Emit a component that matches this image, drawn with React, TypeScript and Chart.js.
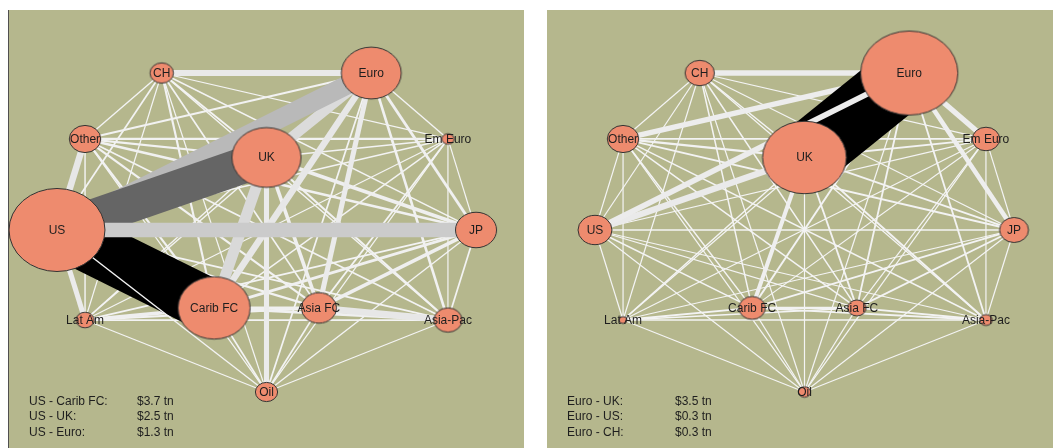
import React, { useEffect, useRef } from "react";
import { Chart, registerables } from "chart.js";

Chart.register(...registerables);

// ---------------- DATA ----------------
const nodeNames = ["US", "UK", "Euro", "JP", "CH", "Other", "Em Euro", "Lat Am", "Carib FC", "Asia FC", "Asia-Pac", "Oil"];
// layout coordinates (network layout space)
const layoutX = [-1, 0, 0.5, 1, -0.5, -0.866, 0.866, -0.866, -0.25, 0.25, 0.866, 0];
const layoutY = [0, 0.4475, 0.969, 0, 0.969, 0.562, 0.562, -0.556, -0.481, -0.481, -0.556, -1];

// relative vertex size (index)
const nodeSizeLeft = [22.9, 16.5, 14.3, 9.8, 5.6, 7.5, 2.9, 4.3, 17.2, 8.4, 6.7, 5.3];
const nodeSizeRight = [8.1, 20.0, 23.2, 6.9, 7.0, 7.5, 6.5, 1.9, 6.3, 4.4, 3.0, 2.9];

// edges (source / target)
const edgeFrom = [
  "US", "US", "US", "US", "US", "US", "US", "US", "US", "US", "US",
  "UK", "UK", "UK", "UK", "UK", "UK", "UK", "UK", "UK", "UK",
  "Euro", "Euro", "Euro", "Euro", "Euro", "Euro", "Euro", "Euro", "Euro",
  "JP", "JP", "JP", "JP", "JP", "JP", "JP", "JP",
  "CH", "CH", "CH", "CH", "CH", "CH", "CH",
  "Other", "Other", "Other", "Other", "Other", "Other",
  "Em Euro", "Em Euro", "Em Euro", "Em Euro", "Em Euro",
  "Lat Am", "Lat Am", "Lat Am", "Lat Am",
  "Carib FC", "Carib FC", "Carib FC",
  "Asia FC", "Asia FC",
  "Asia-Pac",
];
const edgeTo = [
  "UK", "Euro", "JP", "CH", "Other", "Em Euro", "Lat Am", "Carib FC", "Asia FC", "Asia-Pac", "Oil",
  "Euro", "JP", "CH", "Other", "Em Euro", "Lat Am", "Carib FC", "Asia FC", "Asia-Pac", "Oil",
  "JP", "CH", "Other", "Em Euro", "Lat Am", "Carib FC", "Asia FC", "Asia-Pac", "Oil",
  "CH", "Other", "Em Euro", "Lat Am", "Carib FC", "Asia FC", "Asia-Pac", "Oil",
  "Other", "Em Euro", "Lat Am", "Carib FC", "Asia FC", "Asia-Pac", "Oil",
  "Em Euro", "Lat Am", "Carib FC", "Asia FC", "Asia-Pac", "Oil",
  "Lat Am", "Carib FC", "Asia FC", "Asia-Pac", "Oil",
  "Carib FC", "Asia FC", "Asia-Pac", "Oil",
  "Asia FC", "Asia-Pac", "Oil",
  "Asia-Pac", "Oil",
  "Oil",
];

// exposures in $ tn
const weightLeft = [
  2.5, 1.3, 1.0, 0.12, 0.45, 0.1, 0.35, 3.7, 0.15, 0.12, 0.1,
  0.7, 0.25, 0.12, 0.15, 0.1, 0.1, 0.75, 0.25, 0.15, 0.35,
  0.2, 0.4, 0.15, 0.1, 0.1, 0.45, 0.35, 0.18, 0.12,
  0.1, 0.18, 0.08, 0.12, 0.2, 0.25, 0.12, 0.1,
  0.1, 0.08, 0.08, 0.15, 0.12, 0.1, 0.08,
  0.15, 0.1, 0.15, 0.15, 0.12, 0.08,
  0.06, 0.1, 0.12, 0.08, 0.06,
  0.25, 0.15, 0.12, 0.08,
  0.2, 0.2, 0.12,
  0.45, 0.12,
  0.08,
];
const weightRight = [
  0.35, 0.31, 0.08, 0.06, 0.06, 0.06, 0.06, 0.08, 0.06, 0.06, 0.05,
  3.5, 0.1, 0.08, 0.12, 0.1, 0.08, 0.22, 0.1, 0.1, 0.06,
  0.25, 0.3, 0.29, 0.29, 0.06, 0.1, 0.1, 0.1, 0.06,
  0.06, 0.1, 0.06, 0.06, 0.1, 0.1, 0.06, 0.05,
  0.06, 0.06, 0.05, 0.08, 0.08, 0.06, 0.05,
  0.1, 0.06, 0.08, 0.08, 0.08, 0.05,
  0.05, 0.06, 0.06, 0.05, 0.05,
  0.1, 0.08, 0.08, 0.05,
  0.12, 0.1, 0.06,
  0.1, 0.06,
  0.05,
];

const focusLeft = "US";
const focusRight = "Euro";

// ---------------- STYLE ----------------
const BG = "#b5b78d";
const NODE_FILL = "#ee8b6e";
const NODE_STROKE = "#333333";
const TEXT = "#1e1e1e";
const FONT = '12px "Liberation Sans", Arial, Helvetica, sans-serif';
const X_MIN = -1.229, X_MAX = 1.229, Y_MIN = -1.346, Y_MAX = 1.358;
const ELLIPSE_RATIO = 0.865;
const CW = 515, CH_ = 438;

type PanelProps = {
  sizes: number[];
  weights: number[];
  pxPerTn: number;
  focus: string;
  onTop: string[];
};

function makeEllipse(rx: number, ry: number): HTMLCanvasElement {
  const cv = document.createElement("canvas");
  const w = Math.max(4, Math.ceil(2 * rx + 4));
  const h = Math.max(4, Math.ceil(2 * ry + 4));
  cv.width = w;
  cv.height = h;
  const g = cv.getContext("2d")!;
  g.beginPath();
  g.ellipse(w / 2, h / 2, Math.max(0.5, rx), Math.max(0.5, ry), 0, 0, Math.PI * 2);
  g.fillStyle = NODE_FILL;
  g.fill();
  g.lineWidth = 1;
  g.strokeStyle = NODE_STROKE;
  g.stroke();
  return cv;
}

function NetworkPanel({ sizes, weights, pxPerTn, focus, onTop }: PanelProps) {
  const ref = useRef<HTMLCanvasElement>(null);

  useEffect(() => {
    if (!ref.current) return;
    const idx = (n: string) => nodeNames.indexOf(n);
    const wmax = Math.max(...weights);
    const gray = (w: number) => {
      const g = Math.round(245 * (1 - Math.pow(Math.min(1, w / wmax), 1.35)));
      return `rgb(${g},${g},${g})`;
    };
    const topIdx = onTop.map((key) => {
      const [a, b] = key.split("|");
      return edgeFrom.findIndex((f, i) => (f === a && edgeTo[i] === b) || (f === b && edgeTo[i] === a));
    });
    const drawOrder = weights
      .map((_, i) => i)
      .filter((i) => !topIdx.includes(i))
      .sort((a, b) => weights[a] - weights[b])
      .concat(topIdx);

    const edgeDatasets: any[] = drawOrder.map((e, k) => ({
      type: "line",
      data: [
        { x: layoutX[idx(edgeFrom[e])], y: layoutY[idx(edgeFrom[e])] },
        { x: layoutX[idx(edgeTo[e])], y: layoutY[idx(edgeTo[e])] },
      ],
      showLine: true,
      borderColor: gray(weights[e]),
      borderWidth: Math.max(1.2, weights[e] * pxPerTn),
      borderCapStyle: "butt",
      pointRadius: 0,
      fill: false,
      tension: 0,
      order: 1000 - k,
    }));

    const cache = new Map<number, HTMLCanvasElement>();
    const nodeDataset: any = {
      type: "scatter",
      data: nodeNames.map((_, i) => ({ x: layoutX[i], y: layoutY[i] })),
      order: 0,
      pointRadius: 5,
      pointStyle: (c: any) => {
        const i = c.dataIndex;
        if (i === undefined || i === null) return "circle";
        if (cache.has(i)) return cache.get(i);
        const xs = c.chart.scales && c.chart.scales.x;
        let rx = NaN;
        if (xs && xs.width > 0) {
          rx = Math.abs(xs.getPixelForValue(layoutX[i] + sizes[i] / 100) - xs.getPixelForValue(layoutX[i]));
        }
        const ok = isFinite(rx) && rx > 0;
        if (!ok) rx = (sizes[i] / 100) * (CW / (X_MAX - X_MIN));
        const cv = makeEllipse(rx, rx * ELLIPSE_RATIO);
        if (ok) cache.set(i, cv);
        return cv;
      },
    };
    const nodeDsIndex = edgeDatasets.length;

    const labelPlugin = {
      id: "nodeLabels",
      afterDatasetsDraw(chart: any) {
        const ctx = chart.ctx;
        const meta = chart.getDatasetMeta(nodeDsIndex);
        ctx.save();
        ctx.font = FONT;
        ctx.fillStyle = TEXT;
        ctx.textAlign = "center";
        ctx.textBaseline = "middle";
        meta.data.forEach((pt: any, i: number) => {
          ctx.fillText(nodeNames[i], pt.x, pt.y + 0.5);
        });
        ctx.restore();
      },
    };

    const focusEdges = weights
      .map((w, i) => ({ w, i }))
      .filter((o) => edgeFrom[o.i] === focus || edgeTo[o.i] === focus)
      .sort((a, b) => b.w - a.w)
      .slice(0, 3);

    const legendPlugin = {
      id: "topEdges",
      afterDraw(chart: any) {
        const ctx = chart.ctx;
        ctx.save();
        ctx.font = FONT;
        ctx.fillStyle = TEXT;
        ctx.textAlign = "left";
        ctx.textBaseline = "middle";
        focusEdges.forEach((o, r) => {
          const other = edgeFrom[o.i] === focus ? edgeTo[o.i] : edgeFrom[o.i];
          const y = 391.5 + r * 15.5;
          ctx.fillText(`${focus} - ${other}:`, 20, y);
          ctx.fillText(`$${o.w.toFixed(1)} tn`, 128, y);
        });
        ctx.restore();
      },
    };

    const chart = new Chart(ref.current, {
      type: "scatter",
      data: { datasets: [...edgeDatasets, nodeDataset] },
      options: {
        responsive: false,
        animation: false,
        devicePixelRatio: 1,
        events: [],
        layout: { padding: 0, autoPadding: false },
        plugins: { legend: { display: false }, tooltip: { enabled: false } },
        scales: {
          x: { type: "linear", min: X_MIN, max: X_MAX, display: false },
          y: { type: "linear", min: Y_MIN, max: Y_MAX, display: false },
        },
      } as any,
      plugins: [labelPlugin, legendPlugin],
    } as any);
    return () => chart.destroy();
  }, []);

  return <canvas ref={ref} width={CW} height={CH_} style={{ display: "block" }} />;
}

export default function App() {
  return (
    <div
      style={{
        position: "fixed",
        left: 0,
        top: 0,
        width: 1053,
        height: 448,
        overflow: "hidden",
        background: "#ffffff",
      }}
    >
      <div style={{ position: "absolute", left: 8, top: 10, width: 1, height: 438, background: "#505050" }} />
      <div style={{ position: "absolute", left: 9, top: 10, width: CW, height: CH_, background: BG }}>
        <NetworkPanel sizes={nodeSizeLeft} weights={weightLeft} pxPerTn={14.5} focus={focusLeft} onTop={["US|JP", "US|Oil"]} />
      </div>
      <div style={{ position: "absolute", left: 547, top: 10, width: CW, height: CH_, background: BG }}>
        <NetworkPanel sizes={nodeSizeRight} weights={weightRight} pxPerTn={18.6} focus={focusRight} onTop={["US|Euro"]} />
      </div>
    </div>
  );
}
